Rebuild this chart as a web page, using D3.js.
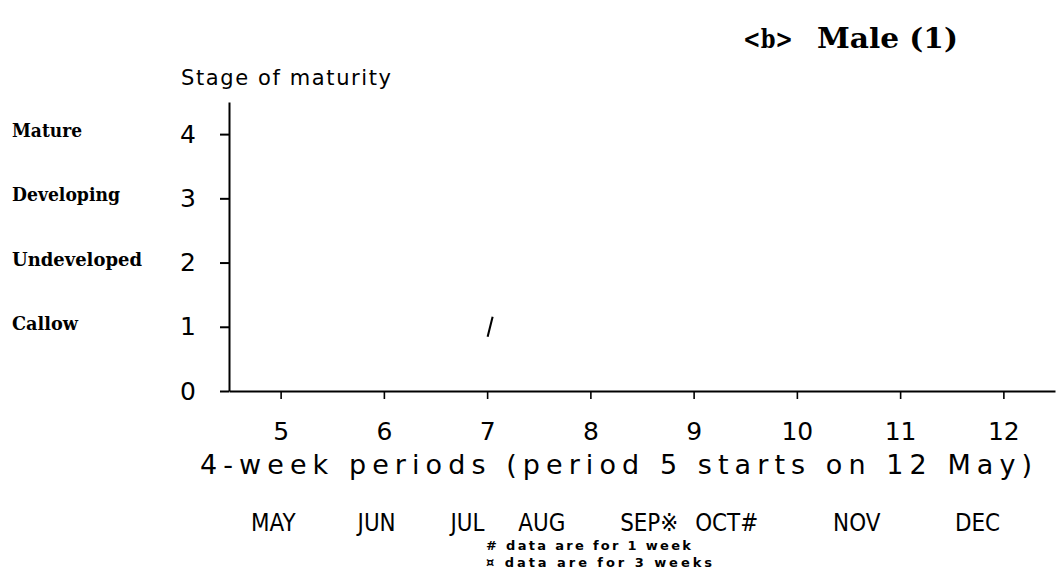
<!DOCTYPE html>
<html>
<head>
<meta charset="utf-8">
<script src="https://cdn.jsdelivr.net/npm/d3@7/dist/d3.min.js"></script>
<style>
  html, body { margin: 0; padding: 0; background: #fff; }
  svg { display: block; }
  .plot { font-family: "DejaVu Sans", sans-serif; fill: #000; }
  .serif { font-family: "DejaVu Serif", serif; font-weight: bold; fill: #000; }
</style>
</head>
<body>
<svg id="chart" width="1057" height="569"></svg>
<script>
// 4-week sampling periods along the x axis
const periods = [5, 6, 7, 8, 9, 10, 11, 12];
// stage-of-maturity scale
const stageTicks = [0, 1, 2, 3, 4];
const stageLevels = [4, 3, 2, 1];
const stageNames = ["Mature", "Developing", "Undeveloped", "Callow"];
// calendar months under the periods (position given in period units)
const monthNames = ["MAY", "JUN", "JUL", "AUG", "SEP\u203B", "OCT#", "NOV", "DEC"];
const monthAt = [4.93, 5.93, 6.81, 7.53, 8.57, 9.32, 10.58, 11.75];
// observed male samples: period and stage
const obsPeriod = [7];
const obsStage = [1];

const svg = d3.select("#chart");

const x = d3.scaleLinear().domain([4.5, 12.5]).range([229, 1055]);
const y = d3.scaleLinear().domain([0, 4.5]).range([391, 102]);

// y axis
const yAxis = svg.append("g")
  .attr("transform", `translate(${x(4.5)},0)`)
  .call(d3.axisLeft(y).tickValues(stageTicks).tickSize(9).tickSizeOuter(0).tickFormat(d3.format("d")));
yAxis.select(".domain").attr("stroke", "#000").attr("stroke-width", 2);
yAxis.selectAll(".tick line").attr("stroke", "#000").attr("stroke-width", 2);
yAxis.selectAll(".tick text")
  .attr("class", "plot")
  .attr("x", -41)
  .attr("text-anchor", "middle")
  .attr("font-size", 25)
  .attr("font-family", "DejaVu Sans, sans-serif");

// x axis
const xAxis = svg.append("g")
  .attr("transform", `translate(0,${y(0)})`)
  .call(d3.axisBottom(x).tickValues(periods).tickSize(8).tickSizeOuter(0).tickFormat(d3.format("d")));
xAxis.select(".domain").attr("stroke", "#000").attr("stroke-width", 2);
xAxis.selectAll(".tick line").attr("stroke", "#000").attr("stroke-width", 1.6);
xAxis.selectAll(".tick text")
  .attr("class", "plot")
  .attr("y", 49)
  .attr("dy", null)
  .attr("font-size", 25)
  .attr("font-family", "DejaVu Sans, sans-serif");

// stage names to the left of the axis
const nameWidths = [70, 108, 130, 66];
svg.append("g").selectAll("text")
  .data(stageLevels)
  .join("text")
  .attr("class", "serif")
  .attr("x", 12)
  .attr("y", d => y(d) + 3)
  .attr("font-size", 18)
  .attr("textLength", (d, i) => nameWidths[i])
  .attr("lengthAdjust", "spacingAndGlyphs")
  .text((d, i) => stageNames[i]);

// panel title
svg.append("text").attr("class", "serif")
  .attr("x", 743).attr("y", 48).attr("font-size", 26)
  .attr("textLength", 50).attr("lengthAdjust", "spacingAndGlyphs")
  .text("<b>");
svg.append("text").attr("class", "serif")
  .attr("x", 817).attr("y", 48).attr("font-size", 28)
  .attr("textLength", 141).attr("lengthAdjust", "spacingAndGlyphs")
  .text("Male (1)");

// y axis title
svg.append("text").attr("class", "plot")
  .attr("x", 181).attr("y", 85).attr("font-size", 21)
  .attr("textLength", 210).attr("lengthAdjust", "spacing")
  .text("Stage of maturity");

// x axis title
svg.append("text").attr("class", "plot")
  .attr("x", 200).attr("y", 474).attr("font-size", 27)
  .attr("textLength", 832).attr("lengthAdjust", "spacing")
  .text("4-week periods (period 5 starts on 12 May)");

// month row
svg.append("g").selectAll("text")
  .data(monthNames)
  .join("text")
  .attr("class", "plot")
  .attr("x", (d, i) => x(monthAt[i]))
  .attr("y", 531)
  .attr("text-anchor", "middle")
  .attr("font-size", 25)
  .attr("transform", (d, i) => `translate(${x(monthAt[i])},0) scale(0.86,1) translate(${-x(monthAt[i])},0)`)
  .text(d => d);

// footnotes
svg.append("text").attr("class", "plot")
  .attr("x", 486).attr("y", 550).attr("font-size", 13).attr("font-weight", "bold")
  .attr("textLength", 205).attr("lengthAdjust", "spacing")
  .text("# data are for 1 week");
svg.append("text").attr("class", "plot")
  .attr("x", 486).attr("y", 567).attr("font-size", 13).attr("font-weight", "bold")
  .attr("textLength", 226).attr("lengthAdjust", "spacing")
  .text("\u00A4 data are for 3 weeks");

// observations, drawn as a slash marker
svg.append("g").selectAll("path")
  .data(obsPeriod.map((p, i) => [p, obsStage[i]]))
  .join("path")
  .attr("d", d => {
    const cx = x(d[0]) + 3, cy = y(d[1]);
    return `M${cx + 2.5},${cy - 10} L${cx - 2.5},${cy + 10}`;
  })
  .attr("stroke", "#000")
  .attr("stroke-width", 2)
  .attr("fill", "none");
</script>
</body>
</html>
